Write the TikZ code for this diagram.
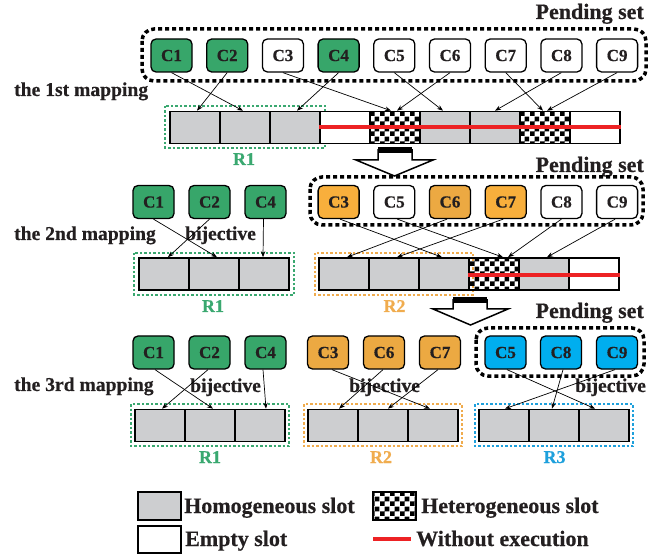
\documentclass[tikz,border=0pt]{standalone}
\usepackage{fontspec}
\setmainfont[BoldFeatures={FakeBold=0.5}]{Liberation Serif}
\usetikzlibrary{arrows.meta,patterns}
\pgfdeclarepatternformonly{bigchecker}{\pgfpointorigin}{\pgfpoint{10pt}{10pt}}{\pgfpoint{10pt}{10pt}}{%
  \pgfpathrectangle{\pgfpointorigin}{\pgfpoint{5pt}{5pt}}%
  \pgfpathrectangle{\pgfpoint{5pt}{5pt}}{\pgfpoint{5pt}{5pt}}%
  \pgfusepath{fill}}
\definecolor{txt}{RGB}{35,31,32}
\definecolor{cgreen}{RGB}{55,166,106}
\definecolor{rgreen}{RGB}{58,168,112}
\definecolor{corangeA}{RGB}{248,175,60}
\definecolor{corangeB}{RGB}{236,169,66}
\definecolor{rorange}{RGB}{240,172,78}
\definecolor{cblue}{RGB}{0,174,239}
\definecolor{rblue}{RGB}{30,160,220}
\definecolor{slotgray}{RGB}{205,206,208}
\definecolor{cred}{RGB}{237,34,36}
\tikzset{
 cnode/.style={draw=black, line width=1.3pt, rounded corners=5pt, minimum width=41pt, minimum height=33pt, inner sep=0pt, font=\fontsize{17}{17}\selectfont\bfseries, text=txt},
 gnode/.style={cnode, fill=cgreen},
 oanode/.style={cnode, fill=corangeA},
 obnode/.style={cnode, fill=corangeB},
 bnode/.style={cnode, fill=cblue},
 wnode/.style={cnode, fill=white},
 slotbase/.style={draw=black, line width=1.6pt, minimum width=50pt, minimum height=32pt, inner sep=0pt},
 slotg/.style={slotbase, fill=slotgray},
 slote/.style={slotbase, fill=white},
 slotc/.style={slotbase, pattern=bigchecker},
 pend/.style={draw=black, line width=3.5pt, dash pattern=on 4pt off 3pt, rounded corners=12pt},
 regbox/.style={line width=2pt, dash pattern=on 2.5pt off 2pt},
 maparrow/.style={-{Stealth[length=6pt,width=4.5pt]}, line width=0.7pt, black},
 lbl/.style={font=\fontsize{19.6}{20}\selectfont\bfseries, text=txt, inner sep=0pt},
 ttl/.style={font=\fontsize{22}{22}\selectfont\bfseries, text=txt, inner sep=0pt},
 rlbl/.style={font=\fontsize{18}{18}\selectfont\bfseries, inner sep=0pt},
 noexec/.style={draw=cred, line width=4pt},
 blockarrow/.style={draw=black, line width=1.5pt, fill=white, line join=miter},
}
\begin{document}
\begin{tikzpicture}[x=1pt,y=-1pt]
\useasboundingbox (0,0) rectangle (670,556);

% ---------------- Row 1 ----------------
\node[ttl, anchor=base east] (ps1) at (644,19) {Pending set};
\draw[pend] (142,29) rectangle (646,81);
\node[lbl, anchor=base west] (m1) at (14,96) {the 1st mapping};
\draw[regbox, draw=rgreen] (165,106) rectangle (325,148);
\node[rlbl, text=rgreen, anchor=base] (r1a) at (244,165) {R1};

\node[slotg] (a1) at (195,127.5) {};
\node[slotg] (a2) at (245,127.5) {};
\node[slotg] (a3) at (295,127.5) {};
\node[slote] (a4) at (345,127.5) {};
\node[slotc] (a5) at (395,127.5) {};
\node[slotg] (a6) at (445,127.5) {};
\node[slotg] (a7) at (495,127.5) {};
\node[slotc] (a8) at (545,127.5) {};
\node[slote] (a9) at (595,127.5) {};
\draw[noexec] (a4.west) -- (a9.east);

\node[gnode] (p1) at (171.5,55.5) {C1};
\node[gnode] (p2) at (227.2,55.5) {C2};
\node[wnode] (p3) at (282.9,55.5) {C3};
\node[gnode] (p4) at (338.6,55.5) {C4};
\node[wnode] (p5) at (394.3,55.5) {C5};
\node[wnode] (p6) at (450,55.5) {C6};
\node[wnode] (p7) at (505.7,55.5) {C7};
\node[wnode] (p8) at (561.4,55.5) {C8};
\node[wnode] (p9) at (617.1,55.5) {C9};

\draw[maparrow] (p1.south) -- ([xshift=-2pt]a2.north);
\draw[maparrow] (p2.south) -- ([xshift=2pt]a1.north);
\draw[maparrow] (p4.south) -- ([xshift=2pt]a3.north);
\draw[maparrow] (p3.south) -- ([xshift=-4pt]a5.north);
\draw[maparrow] (p6.south) -- ([xshift=2pt]a5.north);
\draw[maparrow] (p5.south) -- ([xshift=-2pt]a6.north);
\draw[maparrow] (p8.south) -- (a7.north);
\draw[maparrow] (p7.south) -- ([xshift=-2pt]a8.north);
\draw[maparrow] (p9.south) -- ([xshift=2pt]a8.north);

% block arrow 1
\draw[blockarrow] (378,150) -- (412,150) -- (412,160) -- (433,160) -- (394.5,176) -- (356,160) -- (378,160) -- cycle;
\fill[black] (378,147.5) rectangle (412,153);

% ---------------- Row 2 ----------------
\node[ttl, anchor=base east] (ps2) at (644,172) {Pending set};
\draw[pend] (310,177) rectangle (643,225);
\node[lbl, anchor=base west] (m2) at (14,240) {the 2nd mapping};
\node[lbl, anchor=base west] (bj2) at (185,240) {bijective};
\draw[regbox, draw=rgreen] (134,253) rectangle (294,295);
\draw[regbox, draw=rorange] (315,253) rectangle (473,295);
\node[rlbl, text=rgreen, anchor=base] (r1b) at (213,312) {R1};
\node[rlbl, text=rorange, anchor=base] (r2b) at (394.5,312) {R2};

\node[slotg] (l1) at (164,274) {};
\node[slotg] (l2) at (214,274) {};
\node[slotg] (l3) at (264,274) {};
\node[slotg] (s1) at (344,274) {};
\node[slotg] (s2) at (394,274) {};
\node[slotg] (s3) at (444,274) {};
\node[slotc] (s4) at (494,274) {};
\node[slotg] (s5) at (544,274) {};
\node[slote] (s6) at (594,274) {};
\draw[noexec] ([yshift=-1pt]s4.west) -- ([yshift=-1pt]s6.east);

\node[gnode] (q1) at (153.5,202) {C1};
\node[gnode] (q2) at (209.5,202) {C2};
\node[gnode] (q4) at (265.5,202) {C4};
\node[oanode] (q3) at (338.6,202) {C3};
\node[wnode] (q5) at (394.3,202) {C5};
\node[obnode] (q6) at (450,202) {C6};
\node[oanode] (q7) at (505.7,202) {C7};
\node[wnode] (q8) at (561.4,202) {C8};
\node[wnode] (q9) at (617.1,202) {C9};

\draw[maparrow] (q1.south) -- ([xshift=3pt]l2.north);
\draw[maparrow] (q2.south) -- ([xshift=4pt]l1.north);
\draw[maparrow] ([xshift=-2pt]q4.south) -- ([xshift=-1pt]l3.north);
\draw[maparrow] ([xshift=1.5pt]q3.south) -- ([xshift=-2pt]s3.north);
\draw[maparrow] ([xshift=3pt]q5.south) -- ([xshift=9pt]s4.north);
\draw[maparrow] ([xshift=-3pt]q6.south) -- ([xshift=3pt]s1.north);
\draw[maparrow] ([xshift=-2.5pt]q7.south) -- ([xshift=3pt]s2.north);
\draw[maparrow] (q8.south) -- ([xshift=14pt]s4.north);
\draw[maparrow] ([xshift=-2pt]q9.south) -- ([xshift=3pt]s5.north);

% block arrow 2
\draw[blockarrow] (453,300) -- (487,300) -- (487,309) -- (508,309) -- (470.5,325) -- (433,309) -- (453,309) -- cycle;
\fill[black] (453,297) rectangle (487,303);

% ---------------- Row 3 ----------------
\node[ttl, anchor=base east] (ps3) at (644,318) {Pending set};
\draw[pend] (476,328) rectangle (644,376);
\node[lbl, anchor=base west] (m3) at (14,391) {the 3rd mapping};
\node[lbl, anchor=base west] (bj3a) at (190,392) {bijective};
\node[lbl, anchor=base west] (bj3b) at (349,392) {bijective};
\node[lbl, anchor=base west] (bj3c) at (575,392) {bijective};
\draw[regbox, draw=rgreen] (131,404) rectangle (289,446);
\draw[regbox, draw=rorange] (304,404) rectangle (462,446);
\draw[regbox, draw=rblue] (475,404) rectangle (633,446);
\node[rlbl, text=rgreen, anchor=base] (r1c) at (210,463) {R1};
\node[rlbl, text=rorange, anchor=base] (r2c) at (381,463) {R2};
\node[rlbl, text=rblue, anchor=base] (r3c) at (554.5,463) {R3};

\node[slotg] (u1) at (160,425.5) {};
\node[slotg] (u2) at (210,425.5) {};
\node[slotg] (u3) at (260,425.5) {};
\node[slotg] (v1) at (333,425.5) {};
\node[slotg] (v2) at (383,425.5) {};
\node[slotg] (v3) at (433,425.5) {};
\node[slotg] (w1) at (504,425.5) {};
\node[slotg] (w2) at (554,425.5) {};
\node[slotg] (w3) at (604,425.5) {};

\node[gnode] (t1) at (153.5,352.5) {C1};
\node[gnode] (t2) at (209.5,352.5) {C2};
\node[gnode] (t4) at (265.5,352.5) {C4};
\node[obnode] (t3) at (328,352.5) {C3};
\node[obnode] (t6) at (384,352.5) {C6};
\node[obnode] (t7) at (440,352.5) {C7};
\node[bnode] (t5) at (505.5,352.5) {C5};
\node[bnode] (t8) at (561,352.5) {C8};
\node[bnode] (t9) at (617,352.5) {C9};

\draw[maparrow] ([xshift=1.5pt]t1.south) -- ([xshift=3pt]u2.north);
\draw[maparrow] ([xshift=-1.5pt]t2.south) -- ([xshift=2pt]u1.north);
\draw[maparrow] ([xshift=-2.5pt]t4.south) -- ([xshift=6pt]u3.north);
\draw[maparrow] ([xshift=4pt]t3.south) -- ([xshift=-3pt]v3.north);
\draw[maparrow] ([xshift=-1pt]t6.south) -- ([xshift=6pt]v1.north);
\draw[maparrow] ([xshift=-2pt]t7.south) -- ([xshift=5pt]v2.north);
\draw[maparrow] ([xshift=1.5pt]t5.south) -- ([xshift=-9pt]w3.north);
\draw[maparrow] ([xshift=2pt]t8.south) -- ([xshift=-2pt]w2.north);
\draw[maparrow] ([xshift=-2pt]t9.south) -- ([xshift=1pt]w1.north);

% ---------------- Legend ----------------
\node[slotg, minimum width=43pt, minimum height=28pt] (lg1) at (159.5,506) {};
\node[ttl, anchor=base west] (lt1) at (184,513) {Homogeneous slot};
\node[slotc, minimum width=43pt, minimum height=28pt] (lg2) at (394.5,506) {};
\node[ttl, anchor=base west] (lt2) at (421,513) {Heterogeneous slot};
\node[slote, minimum width=43pt, minimum height=27pt] (lg3) at (159.5,539.5) {};
\node[ttl, anchor=base west] (lt3) at (185,546) {Empty slot};
\draw[noexec] (373,539) -- (411,539);
\node[ttl, anchor=base west] (lt4) at (416,546) {Without execution};
\end{tikzpicture}
\end{document}
